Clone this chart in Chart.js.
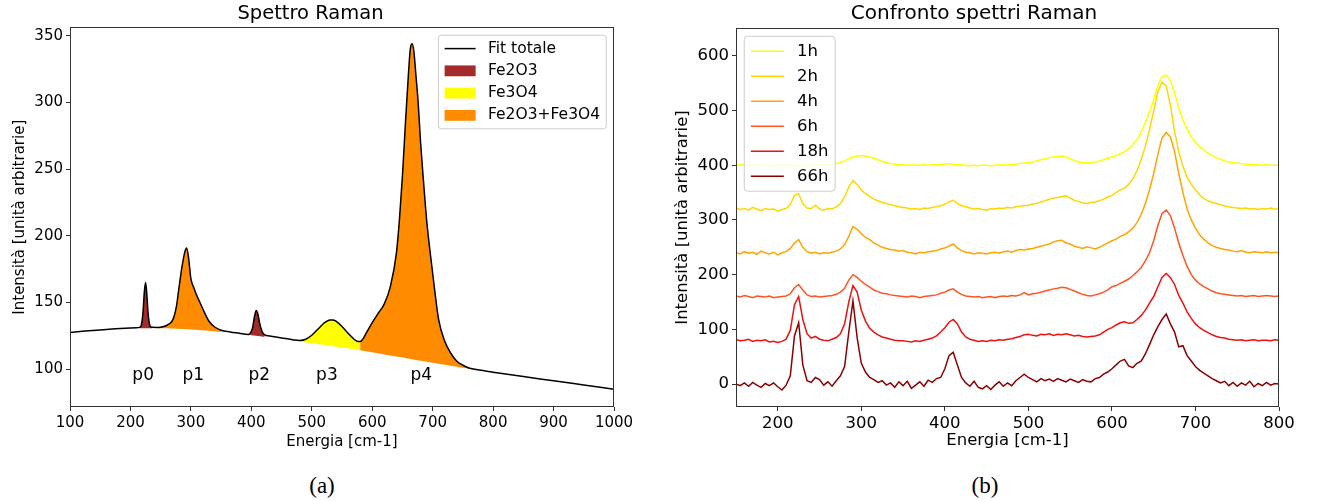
<!DOCTYPE html>
<html>
<head>
<meta charset="utf-8">
<script src="https://cdn.jsdelivr.net/npm/chart.js@4.4.1/dist/chart.umd.min.js"></script>
<style>
  body { margin:0; background:#fff; width:1317px; height:501px; position:relative; overflow:hidden; }
  canvas { position:absolute; top:0; }
  #chartA { left:0; }
  #chartB { left:660px; }
  .didascalia { position:absolute; top:473px; font-family:'Liberation Serif', serif; font-size:23px; line-height:26px; color:#000; transform:translateX(-50%); }
</style>
</head>
<body>
<canvas id="chartA" width="650" height="456"></canvas>
<canvas id="chartB" width="657" height="456"></canvas>
<div class="didascalia" style="left:322px">(a)</div>
<div class="didascalia" style="left:985px">(b)</div>
<script>
// ---- (a) Spettro Raman: fit totale e fondo ----
const energiaA = [100,125,150,175,200,210,215,218,221,223,225,227,229,232,236,245,255,262,270,276,
  280,285,290,293,296,300,305,310,315,320,330,340,350,365,380,395,398,402,405,408,411,414,418,422,
  430,450,470,480,490,500,510,520,530,535,540,550,560,570,575,580,585,590,600,610,620,630,640,645,
  650,655,660,663,666,669,672,676,680,685,690,700,710,720,730,740,750,760,770,780,800,850,900,950,1000];
const fitTotale = [127.6,128.6,129.5,130.3,131.0,131.2,131.4,133,144,158,165,157,143,133,131.4,131.3,132,133.5,137,147,
  160,176,188,191,184,168,161,155,150,145,136,131.5,129.3,128,127,126,126.8,131,139,144,141,134,128,125.8,
  125,123.5,122,121.6,122.5,125.5,130,134.5,137,137,136,132,127,122.5,121,120.8,123,127,135,142,149,162,187,212,
  245,285,322,340,344,338,322,300,270,240,212,172,137,121,112,106,103,101,100,99.2,97.8,94.5,91.4,88.2,85];
const fondoX = [100,150,200,250,300,350,400,450,500,550,580,600,650,700,750,800,850,900,950,1000];
const fondoY = [127.5,129.5,130.8,130.8,129.8,128,125.5,122.5,119.5,116.3,114.3,112.8,108.8,104.8,101.2,97.8,94.5,91.4,88.2,85];

// regioni colorate sotto ai picchi
const regioniDa   = [215, 245, 398, 470, 580];
const regioniA    = [236, 350, 422, 580, 770];
const regioniFase = ['Fe2O3', 'Fe2O3+Fe3O4', 'Fe2O3', 'Fe3O4', 'Fe2O3+Fe3O4'];

const picchiNomi = ['p0', 'p1', 'p2', 'p3', 'p4'];
const picchiX    = [221, 304, 413, 525, 681];
const picchiY    = 95.5;

const tickXA = [100,200,300,400,500,600,700,800,900,1000];
const tickYA = [100,150,200,250,300,350];

// ---- (b) Confronto spettri Raman ----
const energiaB = [150,155,160,165,170,175,180,185,190,195,200,205,210,215,220,225,230,235,240,245,
  250,255,260,265,270,275,280,285,290,295,300,305,310,315,320,325,330,335,340,345,
  350,355,360,365,370,375,380,385,390,395,400,405,410,415,420,425,430,435,440,445,
  450,455,460,465,470,475,480,485,490,495,500,505,510,515,520,525,530,535,540,545,
  550,555,560,565,570,575,580,585,590,595,600,605,610,615,620,625,630,635,640,645,
  650,655,660,665,670,675,680,685,690,695,700,705,710,715,720,725,730,735,740,745,
  750,755,760,765,770,775,780,785,790,795,800];
const serieNomi = ['1h', '2h', '4h', '6h', '18h', '66h'];
const spettro1h = [400,401,400,399,400,401,400,400,399,400, 401,400,400,401,400,399,400,401,400,400,
  401,400,401,402,403,405,408,412,415,417, 418,417,415,413,410,407,405,403,402,401,
  401,400,401,400,400,401,400,401,401,402, 402,403,402,401,401,400,399,400,399,400,
  400,399,400,401,400,401,402,402,403,404, 405,406,408,410,412,414,415,416,417,415,
  412,409,406,405,404,405,406,408,410,413, 415,418,421,425,430,437,447,460,478,498,
  520,545,562,565,555,532,505,483,466,452, 442,434,428,422,418,414,411,408,406,405,
  404,403,402,402,401,401,400,401,400,400, 400];
const spettro2h = [322,319,321,318,323,320,317,321,319,320, 316,319,321,328,345,348,330,322,321,327,
  320,318,321,320,324,330,342,360,372,365, 355,348,343,338,335,332,330,328,326,324,
  323,322,320,321,319,322,321,323,324,326, 329,333,336,330,326,324,322,320,321,319,
  318,321,320,322,321,323,322,324,325,326, 327,329,330,333,335,338,340,341,343,344,
  340,336,334,331,330,332,333,335,338,342, 345,350,355,358,365,375,390,410,435,465,
  500,535,552,545,510,462,425,398,378,365, 355,346,339,335,332,330,328,326,324,323,
  322,321,322,320,321,319,321,320,322,320, 320];
const spettro4h = [240,238,242,239,241,237,243,240,238,241, 236,240,242,248,258,264,250,242,239,241,
  238,240,239,241,243,247,255,270,288,283, 275,268,264,258,254,250,248,246,245,243,
  244,241,240,238,241,240,242,243,244,247, 249,252,256,249,244,241,240,238,240,239,
  238,240,241,239,242,243,241,244,246,245, 247,248,250,252,254,256,260,262,263,258,
  256,252,250,248,251,249,247,250,254,258, 262,265,270,273,278,285,295,310,330,355,
  385,420,450,460,452,425,385,350,320,300, 285,273,265,258,253,250,248,246,245,243,
  242,244,241,240,242,241,240,242,240,241, 240];
const spettro6h = [161,159,162,160,158,161,160,159,161,158, 159,160,161,165,176,182,172,163,160,161,
  159,160,161,162,164,168,175,190,200,195, 188,182,177,172,169,166,165,163,162,161,
  160,159,161,160,158,160,161,162,163,166, 168,172,174,168,164,161,160,159,160,158,
  159,160,158,160,161,160,162,161,163,167, 163,165,166,168,170,172,174,175,177,176,
  173,170,167,164,162,161,163,165,168,172, 178,180,184,188,192,198,205,213,225,240,
  262,290,312,318,308,285,258,235,215,200, 190,183,178,174,170,167,165,164,163,162,
  161,162,160,161,162,160,161,162,161,160, 161];
const spettro18h = [81,79,80,82,78,80,79,81,77,78, 76,78,82,98,145,160,118,92,84,87,
  82,80,79,82,85,92,110,150,180,168, 135,115,102,95,90,86,84,82,80,79,
  79,78,77,79,78,80,82,84,88,95, 103,113,118,110,95,86,82,80,78,79,
  78,80,79,81,80,82,83,85,87,90, 91,89,88,91,90,92,89,91,90,92,
  90,88,89,87,86,87,88,90,95,100, 103,108,112,114,111,112,118,125,135,148,
  160,178,195,202,195,182,162,148,132,120, 110,103,98,94,90,87,85,84,82,81,
  80,81,79,80,81,79,80,80,79,81, 80];
const spettro66h = [0,-3,2,-4,3,-2,-6,1,-3,2, -5,-11,-2,15,88,112,35,6,3,12,
  8,-2,4,-4,6,15,32,95,152,85, 38,22,12,8,3,6,-2,2,-6,4,
  -3,5,-8,-2,4,-4,7,3,10,12, 28,52,58,35,12,2,-4,5,-6,-9,
  -3,-10,-2,4,-4,2,-3,6,12,18, 12,8,4,10,6,9,5,10,7,4,
  9,6,3,8,5,4,10,12,18,22, 28,35,42,45,33,30,38,42,55,72,
  90,105,118,128,110,95,68,70,52,42, 32,25,20,15,10,6,2,5,-3,3,
  -4,2,-2,5,-5,1,-3,3,-2,1, 0];
const tickXB = [200,300,400,500,600,700,800];
const tickYB = [0,100,200,300,400,500,600];

// stili
const coloriFase = { 'Fe2O3': '#a52a2a', 'Fe3O4': '#ffff00', 'Fe2O3+Fe3O4': '#ff8c00' };
const coloriSerie = ['#ffff00', '#ffd700', '#ffa500', '#ff5522', '#ee1111', '#8b0000'];

Chart.defaults.font.family = '"DejaVu Sans", sans-serif';
Chart.defaults.color = '#000';

const cornice = {
  id: 'cornice',
  afterDatasetsDraw(chart) {
    const { ctx, chartArea: a } = chart;
    ctx.save();
    ctx.strokeStyle = '#333';
    ctx.lineWidth = 1;
    ctx.strokeRect(Math.round(a.left) + 0.5, Math.round(a.top) + 0.5,
      Math.round(a.right - a.left) - 1, Math.round(a.bottom - a.top) - 1);
    ctx.restore();
  }
};

const legendaMpl = {
  id: 'legendaMpl',
  afterDraw(chart, args, opts) {
    const { ctx, chartArea: a } = chart;
    const f = opts.fontSize;
    ctx.save();
    ctx.font = `${f}px "DejaVu Sans"`;
    const textW = Math.max(...opts.items.map(it => ctx.measureText(it.testo).width));
    const pad = 0.4 * f, hl = 2 * f, htp = 0.8 * f, gap = 0.5 * f, rowH = opts.rowHeight;
    const w = pad * 2 + hl + htp + textW;
    const h = pad * 2 + opts.items.length * rowH + (opts.items.length - 1) * gap;
    const x = opts.lato === 'destra' ? a.right - 0.5 * f - w : a.left + 0.5 * f;
    const y = a.top + 0.5 * f;
    ctx.beginPath();
    ctx.roundRect(x, y, w, h, 0.2 * f);
    ctx.fillStyle = 'rgba(255,255,255,0.8)';
    ctx.fill();
    ctx.strokeStyle = '#cccccc';
    ctx.lineWidth = 1;
    ctx.stroke();
    opts.items.forEach((it, i) => {
      const cy = y + pad + i * (rowH + gap) + rowH / 2;
      const hx = x + pad;
      if (it.tipo === 'linea') {
        ctx.strokeStyle = it.colore;
        ctx.lineWidth = it.spessore;
        ctx.beginPath(); ctx.moveTo(hx, cy); ctx.lineTo(hx + hl, cy); ctx.stroke();
      } else {
        ctx.fillStyle = it.colore;
        ctx.fillRect(hx, cy - 0.35 * f, hl, 0.7 * f);
      }
      ctx.fillStyle = '#000';
      ctx.textBaseline = 'middle';
      ctx.textAlign = 'left';
      ctx.fillText(it.testo, hx + hl + htp, cy);
    });
    ctx.restore();
  }
};

const etichettePicchi = {
  id: 'etichettePicchi',
  afterDatasetsDraw(chart) {
    const { ctx, scales: { x, y } } = chart;
    ctx.save();
    ctx.font = '17px "DejaVu Sans"';
    ctx.fillStyle = '#000';
    ctx.textAlign = 'center';
    ctx.textBaseline = 'middle';
    picchiNomi.forEach((n, i) => ctx.fillText(n, x.getPixelForValue(picchiX[i]), y.getPixelForValue(picchiY)));
    ctx.restore();
  }
};

function assi(opt) {
  const tickGrid = { display: true, drawOnChartArea: false, drawTicks: true, tickLength: 4, color: '#333' };
  return {
    x: {
      type: 'linear', min: opt.xMin, max: opt.xMax,
      grid: tickGrid, border: { display: false },
      ticks: { font: { size: opt.fs }, padding: 3, maxRotation: 0, callback: v => String(v) },
      afterBuildTicks: s => { s.ticks = opt.tickX.map(v => ({ value: v })); },
      afterFit: s => { s.height = 48; },
      title: { display: true, text: 'Energia [cm-1]', font: { size: opt.fs } }
    },
    y: {
      type: 'linear', min: opt.yMin, max: opt.yMax,
      grid: tickGrid, border: { display: false },
      ticks: { font: { size: opt.fs }, padding: 3, callback: v => String(v) },
      afterBuildTicks: s => { s.ticks = opt.tickY.map(v => ({ value: v })); },
      afterFit: s => { s.width = opt.yW; },
      title: { display: true, text: 'Intensità [unità arbitrarie]', font: { size: opt.fs } }
    }
  };
}

// --- grafico (a)
const puntiFit = energiaA.map((x, i) => ({ x, y: fitTotale[i] }));
const idxFondo = 1 + regioniDa.length;
const datasetsA = [
  { label: 'Fit totale', data: puntiFit, borderColor: '#000', borderWidth: 1.5,
    pointRadius: 0, cubicInterpolationMode: 'monotone', fill: false }
];
regioniDa.forEach((da, i) => {
  datasetsA.push({
    label: regioniFase[i],
    data: puntiFit.filter(p => p.x >= da && p.x <= regioniA[i]),
    borderWidth: 0, pointRadius: 0, cubicInterpolationMode: 'monotone',
    backgroundColor: coloriFase[regioniFase[i]],
    fill: { target: idxFondo }
  });
});
datasetsA.push({ label: 'fondo', data: fondoX.map((x, i) => ({ x, y: fondoY[i] })),
  borderWidth: 0, pointRadius: 0, cubicInterpolationMode: 'monotone', fill: false });

new Chart(document.getElementById('chartA'), {
  type: 'line',
  data: { datasets: datasetsA },
  plugins: [cornice, etichettePicchi, legendaMpl],
  options: {
    responsive: false, animation: false, devicePixelRatio: 1,
    layout: { padding: { left: 7, right: 36, top: 0, bottom: 1 } },
    scales: assi({ xMin: 100, xMax: 1000, yMin: 71.7, yMax: 356.3, tickX: tickXA, tickY: tickYA, fs: 15, yW: 63 }),
    plugins: {
      legend: { display: false }, tooltip: { enabled: false },
      title: { display: true, text: 'Spettro Raman', font: { size: 19.5, weight: 'normal' }, padding: { top: 2, bottom: 2 }, color: '#000' },
      legendaMpl: {
        fontSize: 15.5, rowHeight: 14.5, lato: 'destra',
        items: [
          { testo: 'Fit totale', tipo: 'linea', colore: '#000', spessore: 1.5 },
          { testo: 'Fe2O3', tipo: 'patch', colore: coloriFase['Fe2O3'] },
          { testo: 'Fe3O4', tipo: 'patch', colore: coloriFase['Fe3O4'] },
          { testo: 'Fe2O3+Fe3O4', tipo: 'patch', colore: coloriFase['Fe2O3+Fe3O4'] }
        ]
      }
    }
  }
});

// --- grafico (b)
const spettri = [spettro1h, spettro2h, spettro4h, spettro6h, spettro18h, spettro66h];
new Chart(document.getElementById('chartB'), {
  type: 'line',
  data: {
    datasets: spettri.map((s, i) => ({
      label: serieNomi[i],
      data: energiaB.map((x, j) => ({ x, y: s[j] })),
      borderColor: coloriSerie[i], borderWidth: 1.5, pointRadius: 0, tension: 0,
      fill: false, order: spettri.length - i
    }))
  },
  plugins: [cornice, legendaMpl],
  options: {
    responsive: false, animation: false, devicePixelRatio: 1,
    layout: { padding: { left: 9, right: 38, top: 0, bottom: 1 } },
    scales: assi({ xMin: 150, xMax: 800, yMin: -42, yMax: 651, tickX: tickXB, tickY: tickYB, fs: 16.5, yW: 67 }),
    plugins: {
      legend: { display: false }, tooltip: { enabled: false },
      title: { display: true, text: 'Confronto spettri Raman', font: { size: 20, weight: 'normal' }, padding: { top: 2, bottom: 2 }, color: '#000' },
      legendaMpl: {
        fontSize: 16.5, rowHeight: 16.75, lato: 'sinistra',
        items: serieNomi.map((n, i) => ({ testo: n, tipo: 'linea', colore: coloriSerie[i], spessore: 1.5 }))
      }
    }
  }
});
</script>
</body>
</html>
